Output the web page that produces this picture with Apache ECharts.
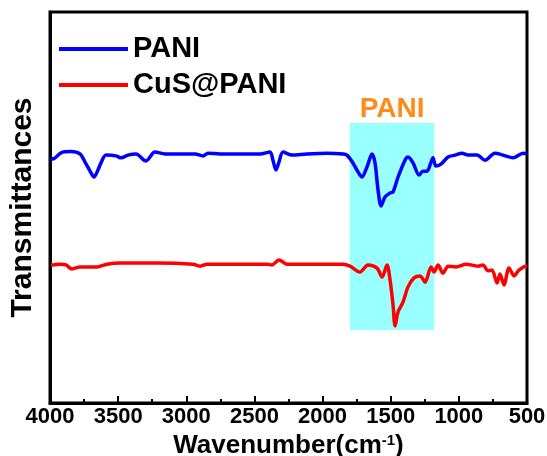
<!DOCTYPE html>
<html>
<head>
<meta charset="utf-8">
<script src="https://cdn.jsdelivr.net/npm/echarts@6/dist/echarts.min.js"></script>
<style>
  html, body { margin: 0; padding: 0; background: #fff; }
  #chart { width: 547px; height: 456px; }
</style>
</head>
<body>
<div id="chart"></div>
<script>
// FTIR spectra, wavenumber (cm-1) vs. transmittance (arbitrary offset units)
var paniWavenumber = [3993, 3978, 3919, 3846, 3780, 3743, 3706, 3677, 3648, 3626, 3589, 3516, 3479, 3428, 3369, 3296, 3230, 3156, 3039, 2936, 2877, 2841, 2753, 2606, 2459, 2386, 2364, 2342, 2320, 2290, 2224, 2114, 1967, 1850, 1821, 1777, 1740, 1711, 1674, 1637, 1615, 1593, 1571, 1542, 1505, 1483, 1446, 1395, 1373, 1336, 1292, 1263, 1234, 1204, 1190, 1168, 1131, 1079, 1028, 977, 933, 867, 808, 735, 676, 602, 529, 500];
var paniT = [62.7, 62.4, 64.0, 64.3, 63.7, 61.6, 59.3, 57.8, 59.6, 61.4, 63.4, 63.2, 62.7, 63.4, 63.7, 61.9, 64.2, 63.7, 63.7, 63.7, 63.2, 63.9, 63.7, 63.7, 63.7, 64.2, 62.1, 59.6, 61.6, 64.2, 63.4, 63.7, 63.9, 63.7, 63.4, 61.4, 59.1, 57.8, 60.4, 63.7, 61.4, 54.5, 50.4, 52.7, 53.7, 54.0, 57.8, 62.1, 62.9, 61.4, 58.3, 59.3, 59.3, 61.6, 62.7, 60.6, 61.1, 62.9, 63.4, 63.9, 63.4, 63.4, 62.1, 63.9, 63.4, 62.7, 63.9, 63.7];

var cusWavenumber = [3993, 3978, 3927, 3883, 3839, 3780, 3655, 3582, 3486, 3391, 3215, 2951, 2899, 2848, 2606, 2408, 2371, 2320, 2261, 2166, 1850, 1799, 1725, 1667, 1600, 1564, 1527, 1505, 1483, 1468, 1446, 1410, 1373, 1329, 1285, 1248, 1204, 1182, 1153, 1116, 1079, 1021, 947, 859, 823, 786, 757, 720, 698, 669, 632, 595, 559, 507, 500];
var cusT = [35.3, 35.3, 35.5, 35.3, 34.3, 34.8, 34.8, 35.5, 35.8, 35.8, 35.8, 35.5, 35.0, 35.5, 35.5, 35.5, 35.3, 36.6, 35.5, 35.5, 35.5, 35.0, 33.5, 35.3, 34.5, 32.2, 35.3, 31.5, 25.1, 19.7, 23.3, 25.8, 29.7, 32.0, 32.5, 30.9, 34.8, 33.5, 35.3, 33.2, 35.0, 34.8, 35.5, 35.0, 35.3, 33.8, 34.0, 30.7, 33.0, 30.2, 34.5, 32.5, 34.0, 35.0, 35.0];

var seriesNames = ['PANI', 'CuS@PANI'];
var seriesColors = ['#0000FF', '#FF0000'];

// highlighted PANI band region
var bandRange = [1800, 1180];
var bandLevels = [18.7, 71.6];
var bandLabel = 'PANI';

var xTicks = { min: 500, max: 4000, step: 500 };

function pairs(xs, ys) {
  return xs.map(function (x, i) { return [x, ys[i]]; });
}

var font = '"Liberation Sans", Arial, sans-serif';

var chart = echarts.init(document.getElementById('chart'), null, { renderer: 'canvas' });
chart.setOption({
  animation: false,
  backgroundColor: '#ffffff',
  grid: {
    left: 50, right: 20, top: 12, bottom: 53,
    containLabel: false, outerBoundsMode: 'none',
    show: true, borderColor: '#000', borderWidth: 3, backgroundColor: 'transparent'
  },
  legend: {
    orient: 'vertical',
    left: 59, top: 34, padding: 0,
    itemWidth: 69, itemHeight: 4, itemGap: 6,
    icon: 'rect',
    textStyle: { fontFamily: font, fontWeight: 'bold', fontSize: 29, color: '#000', lineHeight: 30 },
    data: seriesNames
  },
  xAxis: {
    type: 'value',
    inverse: true,
    min: xTicks.min, max: xTicks.max, interval: xTicks.step,
    name: 'Wavenumber(cm{sup|-1})',
    nameLocation: 'middle',
    nameGap: 17,
    nameTextStyle: {
      fontFamily: font, fontWeight: 'bold', fontSize: 26, color: '#000',
      verticalAlign: 'top',
      rich: { sup: { fontFamily: font, fontWeight: 'bold', fontSize: 15, color: '#000', verticalAlign: 'top', padding: [0, 0, 10, 0] } }
    },
    axisLine: { show: true, onZero: false, lineStyle: { color: '#000', width: 3 } },
    axisTick: { show: true, inside: true, length: 7, lineStyle: { color: '#000', width: 2 } },
    minorTick: { show: true, splitNumber: 2, length: 4, lineStyle: { color: '#000', width: 2 } },
    axisLabel: {
      margin: 3, fontFamily: font, fontWeight: 'bold', fontSize: 22, color: '#000',
      formatter: function (v) { return String(v); }
    },
    splitLine: { show: false }
  },
  yAxis: {
    type: 'value',
    min: 0, max: 100,
    name: 'Transmittances',
    nameLocation: 'middle',
    nameGap: 12,
    nameTextStyle: { fontFamily: font, fontWeight: 'bold', fontSize: 30, color: '#000' },
    axisLine: { show: true, lineStyle: { color: '#000', width: 3 } },
    axisTick: { show: false },
    axisLabel: { show: false },
    splitLine: { show: false }
  },
  series: [
    {
      name: seriesNames[0], type: 'line', data: pairs(paniWavenumber, paniT),
      showSymbol: false, smooth: 0.3, z: 2,
      lineStyle: { color: seriesColors[0], width: 3.5 }, itemStyle: { color: seriesColors[0] }
    },
    {
      name: seriesNames[1], type: 'line', data: pairs(cusWavenumber, cusT),
      showSymbol: false, smooth: 0.3, z: 2,
      lineStyle: { color: seriesColors[1], width: 3.5 }, itemStyle: { color: seriesColors[1] }
    },
    {
      name: 'band', type: 'line', data: [], z: 5, silent: true,
      markArea: {
        silent: true,
        itemStyle: { color: 'rgba(0,255,255,0.4)' },
        label: {
          show: true, position: 'top', distance: 0,
          fontFamily: font, fontWeight: 'bold', fontSize: 28, color: '#FF8C1A'
        },
        data: [[
          { name: bandLabel, xAxis: bandRange[0], yAxis: bandLevels[1] },
          { xAxis: bandRange[1], yAxis: bandLevels[0] }
        ]]
      }
    }
  ]
});
</script>
</body>
</html>
